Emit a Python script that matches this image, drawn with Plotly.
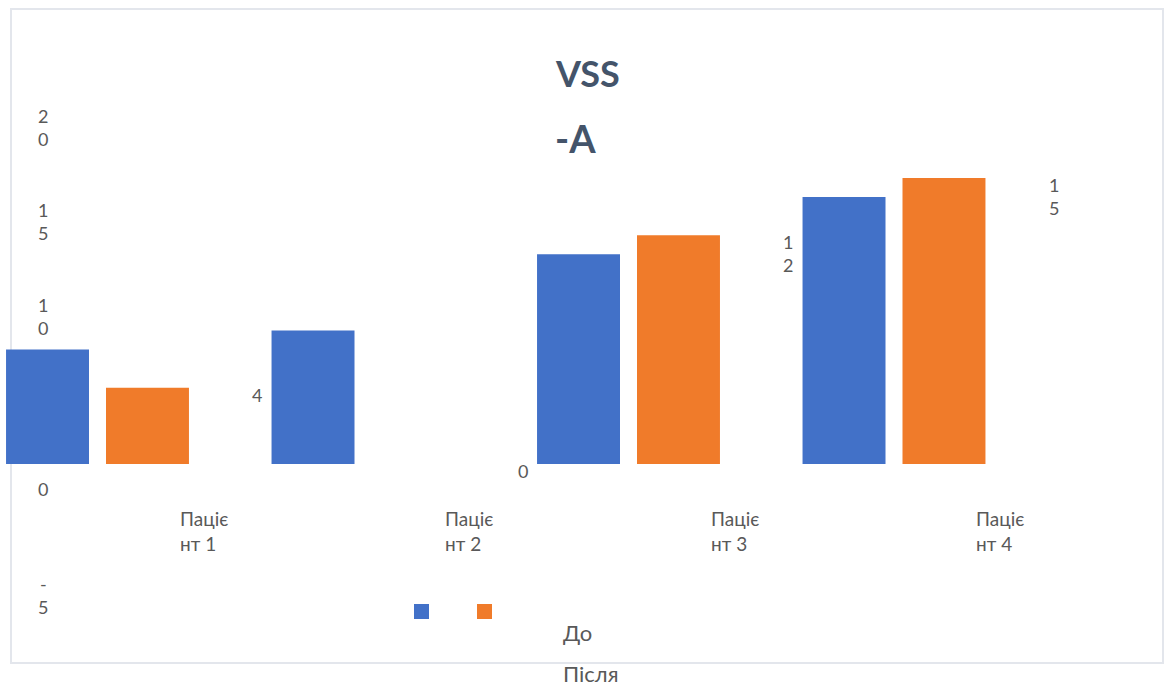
import plotly.graph_objects as go

# --- data ---
categories = ["Пацієнт 1", "Пацієнт 2", "Пацієнт 3", "Пацієнт 4"]
category_labels = ["Паціє<br>нт 1", "Паціє<br>нт 2", "Паціє<br>нт 3", "Паціє<br>нт 4"]
series_names = ["До", "Після"]
before_values = [6, 7, 11, 14]
after_values = [4, 0, 12, 15]
y_tick_values = [20, 15, 10, 0, -5]
y_tick_labels = ["2<br>0", "1<br>5", "1<br>0", "0", "-<br>5"]
title_lines = ["VSS", "-A"]

colors = ["#4271c8", "#f07b2a"]

W, H = 1172, 688
FONT = "Lato, 'Noto Sans', sans-serif"
TEXT = "#595959"

fig = go.Figure()
for name, vals, col in zip(series_names, [before_values, after_values], colors):
    fig.add_trace(go.Bar(x=categories, y=vals, name=name, marker=dict(color=col, line=dict(width=0))))

def px(x):
    return x / W

def py(y):
    return 1 - y / H

annotations = []

# title, wrapped over two lines
annotations.append(dict(text="<b>%s</b>" % title_lines[0], xref="paper", yref="paper",
                        x=px(553), y=py(73), xanchor="left", yanchor="middle", showarrow=False,
                        font=dict(family=FONT, size=36, color="#44546a")))
annotations.append(dict(text="<b>%s</b>" % title_lines[1], xref="paper", yref="paper",
                        x=px(553), y=py(138), xanchor="left", yanchor="middle", showarrow=False,
                        font=dict(family=FONT, size=38, color="#44546a")))

# value-axis labels
tick_shift = [-45, -44, -43, -25, -36]
for v, lab, sh in zip(y_tick_values, y_tick_labels, tick_shift):
    annotations.append(dict(text=lab, xref="paper", yref="y", x=px(43), y=v, yshift=sh,
                            xanchor="center", yanchor="middle", showarrow=False, align="center",
                            font=dict(family=FONT, size=18, color=TEXT)))

# category labels
for i, lab in enumerate(category_labels):
    annotations.append(dict(text=lab, xref="x", yref="y", x=i, y=0, xshift=80, yshift=-67,
                            xanchor="left", yanchor="middle", showarrow=False, align="left",
                            font=dict(family=FONT, size=19, color=TEXT)))

# data labels for the second series
slot = 0.3766
for i, v in enumerate(after_values):
    lab = "<br>".join(list(str(v)))
    annotations.append(dict(text=lab, xref="x", yref="y", x=i + slot / 2, y=v, xshift=110, yshift=6,
                            xanchor="center", yanchor="top", showarrow=False, align="center",
                            font=dict(family=FONT, size=18, color=TEXT)))

# legend entries
legend_text_y = [632, 673]
for name, ty in zip(series_names, legend_text_y):
    annotations.append(dict(text=name, xref="paper", yref="paper", x=px(561), y=py(ty),
                            xanchor="left", yanchor="middle", showarrow=False,
                            font=dict(family=FONT, size=22, color=TEXT)))

shapes = [
    dict(type="rect", xref="paper", yref="paper", x0=px(11), x1=px(1163), y0=py(663), y1=py(9),
         line=dict(color="#e3e6ec", width=2), fillcolor="rgba(0,0,0,0)", layer="below"),
]
legend_sq_x = [414, 477]
for col, sx in zip(colors, legend_sq_x):
    shapes.append(dict(type="rect", xref="paper", yref="paper", x0=px(sx), x1=px(sx + 15),
                       y0=py(619), y1=py(604), line=dict(width=0), fillcolor=col))

# axis scales: 0 sits at y=464px, 19.07 px per unit; categories 265.5 px apart
ppu = 19.07
y_top = 464 / ppu
y_bot = -(H - 464) / ppu
cat_px = 265.5
x0 = -97.5 / cat_px
x1 = x0 + W / cat_px

fig.update_layout(
    width=W, height=H,
    margin=dict(l=0, r=0, t=0, b=0, autoexpand=False),
    paper_bgcolor="white", plot_bgcolor="rgba(0,0,0,0)",
    barmode="group", bargap=0.247, bargroupgap=0.17,
    showlegend=False,
    xaxis=dict(range=[x0, x1], showticklabels=False, showgrid=False, zeroline=False,
               showline=False, ticks="", fixedrange=True),
    yaxis=dict(range=[y_bot, y_top], showticklabels=False, showgrid=False, zeroline=False,
               showline=False, ticks="", fixedrange=True),
    annotations=annotations,
    shapes=shapes,
)

fig.write_html("out.html", config={"displayModeBar": False})
